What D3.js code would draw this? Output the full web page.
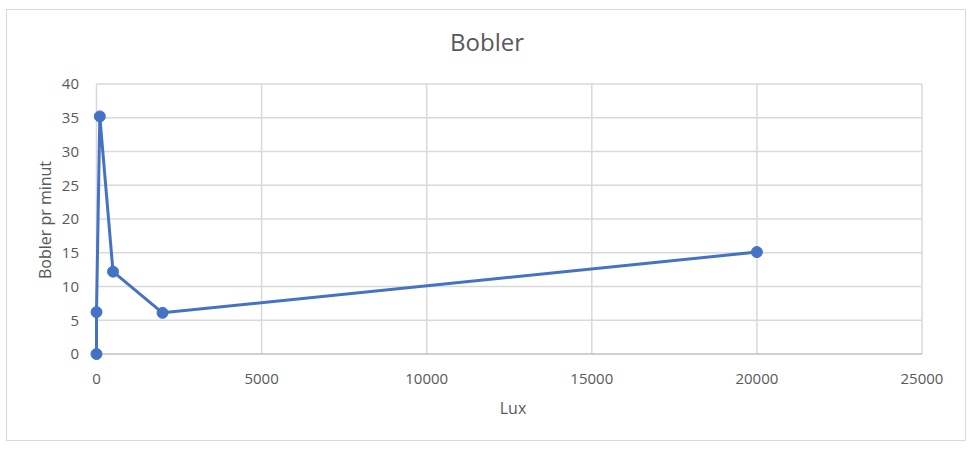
<!DOCTYPE html>
<html><head><meta charset="utf-8">
<script src="https://cdn.jsdelivr.net/npm/d3@7"></script>
<style>body{margin:0;background:#fff;} svg{display:block;}</style>
</head><body>
<script>
const title = "Bobler";
const xLabel = "Lux";
const yLabel = "Bobler pr minut";
const lux = [0, 0, 100, 500, 2000, 20000];
const bobler = [0, 6.2, 35.2, 12.2, 6.1, 15.1];
const xTicks = [0, 5000, 10000, 15000, 20000, 25000];
const yTicks = [0, 5, 10, 15, 20, 25, 30, 35, 40];

const W = 975, H = 449;
const font = "'Open Sans', Lato, sans-serif";
const svg = d3.select("body").append("svg").attr("width", W).attr("height", H);
svg.append("rect").attr("width", W).attr("height", H).attr("fill", "#fff");
svg.append("rect").attr("x", 6.5).attr("y", 9.5).attr("width", 959).attr("height", 431)
  .attr("fill", "none").attr("stroke", "#d9d9d9").attr("stroke-width", 1);

const x = d3.scaleLinear().domain([0, 25000]).range([96.5, 922]);
const y = d3.scaleLinear().domain([0, 40]).range([354, 84]);

// gridlines
svg.append("g").selectAll("line").data(yTicks.filter(d => d > 0)).join("line")
  .attr("x1", x(0)).attr("x2", x(25000)).attr("y1", d => y(d)).attr("y2", d => y(d))
  .attr("stroke", "#d9d9d9").attr("stroke-width", 1.5);
svg.append("g").selectAll("line").data(xTicks.filter(d => d > 0)).join("line")
  .attr("x1", d => x(d)).attr("x2", d => x(d)).attr("y1", y(0)).attr("y2", y(40))
  .attr("stroke", "#d9d9d9").attr("stroke-width", 1.5);
// axes lines
svg.append("line").attr("x1", x(0)).attr("x2", x(25000)).attr("y1", y(0)).attr("y2", y(0))
  .attr("stroke", "#bfbfbf").attr("stroke-width", 1.5);
svg.append("line").attr("x1", x(0)).attr("x2", x(0)).attr("y1", y(0)).attr("y2", y(40))
  .attr("stroke", "#d9d9d9").attr("stroke-width", 1.5);

// tick labels
svg.append("g").selectAll("text").data(yTicks).join("text")
  .attr("x", 79).attr("y", d => y(d)).attr("dy", "0.35em").attr("text-anchor", "end")
  .attr("font-family", font).attr("font-size", 15).attr("fill", "#595959").text(d => d);
svg.append("g").selectAll("text").data(xTicks).join("text")
  .attr("x", d => x(d)).attr("y", 379).attr("dy", "0.35em").attr("text-anchor", "middle")
  .attr("font-family", font).attr("font-size", 15).attr("fill", "#595959").text(d => d);

// titles
svg.append("text").attr("x", 487).attr("y", 43).attr("dy", "0.35em").attr("text-anchor", "middle")
  .attr("font-family", font).attr("font-size", 24).attr("fill", "#595959").text(title);
svg.append("text").attr("x", 513).attr("y", 408).attr("dy", "0.35em").attr("text-anchor", "middle")
  .attr("font-family", font).attr("font-size", 16).attr("fill", "#595959").text(xLabel);
svg.append("text").attr("transform", "translate(45,220) rotate(-90)").attr("dy", "0.35em")
  .attr("text-anchor", "middle").attr("font-family", font).attr("font-size", 16)
  .attr("fill", "#595959").text(yLabel);

const data = lux.map((l, i) => ({l, b: bobler[i]}));
svg.append("path").datum(data)
  .attr("d", d3.line().x(d => x(d.l)).y(d => y(d.b)))
  .attr("fill", "none").attr("stroke", "#4472C4").attr("stroke-width", 3).attr("stroke-linejoin", "round");
svg.append("g").selectAll("circle").data(data).join("circle")
  .attr("cx", d => x(d.l)).attr("cy", d => y(d.b)).attr("r", 5.5)
  .attr("fill", "#4472C4").attr("stroke", "#4472C4").attr("stroke-width", 1);
</script>
</body></html>
